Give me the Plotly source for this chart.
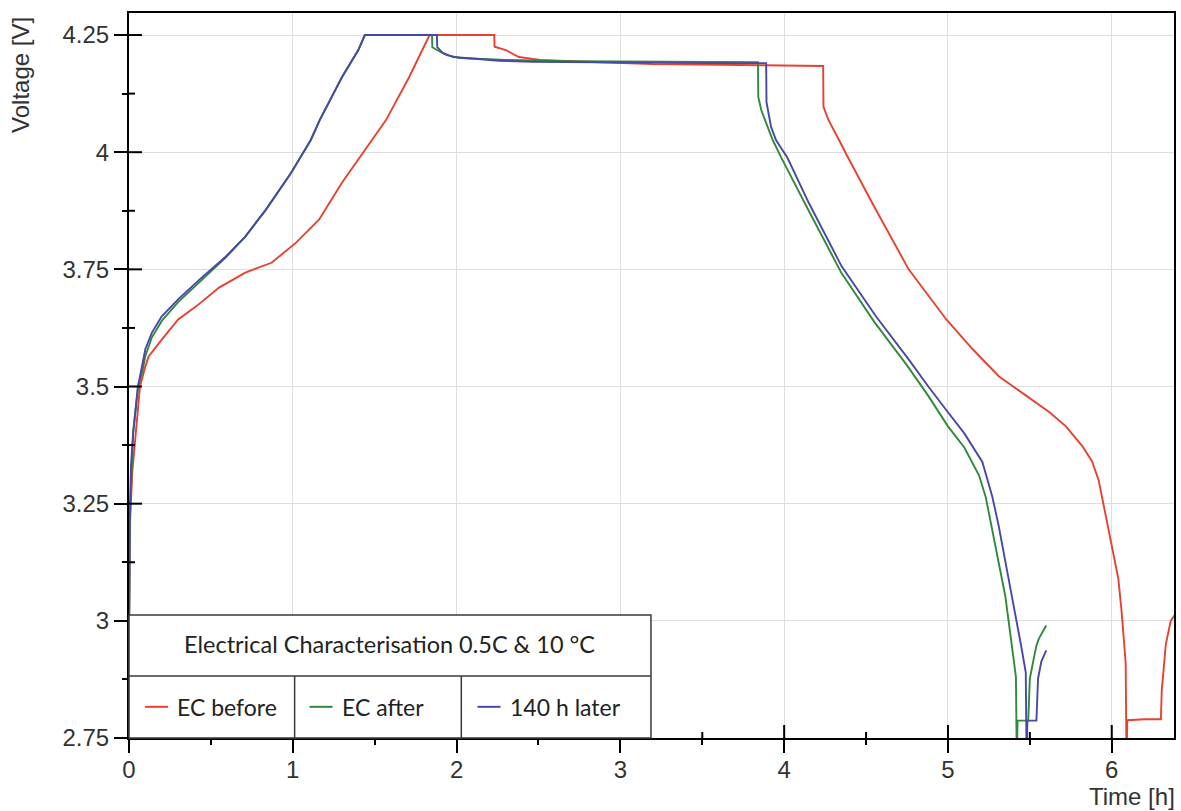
import plotly.graph_objects as go

# ---- measured series: time [h] and cell voltage [V] ----
t_before = [0, 0.005, 0.02, 0.037, 0.067, 0.1, 0.12, 0.2, 0.3, 0.41, 0.55, 0.71, 0.87, 1.02, 1.16,
            1.30, 1.48, 1.57, 1.71, 1.79, 1.835, 2.23, 2.232, 2.30, 2.38, 2.51, 2.7, 2.87, 3.2, 3.6,
            4.0, 4.238, 4.24, 4.27, 4.335, 4.38, 4.54, 4.76, 4.99, 5.15, 5.31, 5.49, 5.62, 5.72,
            5.82, 5.88, 5.92, 5.96, 6.0, 6.04, 6.06, 6.085, 6.09, 6.095, 6.2, 6.30, 6.305, 6.33, 6.36, 6.40]
v_before = [2.95, 3.2, 3.317, 3.39, 3.5, 3.543, 3.564, 3.60, 3.643, 3.671, 3.711, 3.743, 3.764, 3.807, 3.856,
            3.935, 4.026, 4.069, 4.16, 4.218, 4.25, 4.25, 4.225, 4.218, 4.203, 4.197, 4.194, 4.192, 4.188, 4.186,
            4.185, 4.184, 4.097, 4.069, 4.026, 3.995, 3.89, 3.75, 3.643, 3.58, 3.522, 3.477, 3.445, 3.415,
            3.373, 3.34, 3.30, 3.23, 3.16, 3.09, 3.02, 2.91, 2.70, 2.788, 2.79, 2.79, 2.85, 2.95, 3.0, 3.02]

t_after = [0, 0.005, 0.025, 0.055, 0.08, 0.10, 0.14, 0.20, 0.30, 0.43, 0.59, 0.71, 0.835, 0.99, 1.11,
           1.165, 1.30, 1.40, 1.44, 1.85, 1.852, 1.88, 1.94, 2.02, 2.3, 2.7, 3.2, 3.6, 3.84, 3.842,
           3.86, 3.93, 3.98, 4.15, 4.35, 4.55, 4.75, 4.88, 5.0, 5.10, 5.19, 5.23, 5.27, 5.32, 5.35,
           5.39, 5.415, 5.42, 5.425, 5.49, 5.50, 5.52, 5.54, 5.555, 5.60]
v_after = [2.95, 3.22, 3.40, 3.5, 3.53, 3.565, 3.605, 3.64, 3.68, 3.722, 3.775, 3.82, 3.877, 3.956, 4.026,
           4.069, 4.16, 4.218, 4.25, 4.25, 4.224, 4.218, 4.207, 4.201, 4.197, 4.194, 4.193, 4.192, 4.192, 4.118,
           4.09, 4.026, 3.99, 3.875, 3.742, 3.638, 3.545, 3.48, 3.415, 3.37, 3.31, 3.265, 3.196, 3.105, 3.053,
           2.947, 2.88, 2.70, 2.787, 2.787, 2.877, 2.913, 2.947, 2.962, 2.99]

t_later = [0, 0.005, 0.012, 0.025, 0.055, 0.08, 0.10, 0.14, 0.20, 0.30, 0.43, 0.59, 0.71, 0.835, 0.99,
           1.11, 1.165, 1.30, 1.40, 1.44, 1.88, 1.882, 1.915, 1.98, 2.10, 2.26, 2.46, 3.0, 3.5, 3.89,
           3.892, 3.92, 3.95, 4.02, 4.15, 4.35, 4.56, 4.76, 4.88, 5.0, 5.10, 5.21, 5.27, 5.31, 5.36,
           5.41, 5.445, 5.475, 5.48, 5.485, 5.54, 5.55, 5.57, 5.60]
v_later = [2.95, 3.22, 3.33, 3.40, 3.5, 3.545, 3.58, 3.615, 3.65, 3.686, 3.728, 3.777, 3.82, 3.877, 3.956,
           4.026, 4.069, 4.16, 4.218, 4.25, 4.25, 4.224, 4.212, 4.203, 4.199, 4.195, 4.193, 4.191, 4.19, 4.19,
           4.107, 4.054, 4.026, 3.988, 3.892, 3.757, 3.65, 3.558, 3.50, 3.445, 3.40, 3.339, 3.266, 3.202, 3.11,
           3.019, 2.95, 2.89, 2.70, 2.787, 2.787, 2.877, 2.913, 2.937]

series_names = ["EC before", "EC after", "140 h later"]
legend_title = "Electrical Characterisation 0.5C & 10 °C"

y_tickvals = [2.75, 3.0, 3.25, 3.5, 3.75, 4.0, 4.25]
y_ticktext = ["2.75", "3", "3.25", "3.5", "3.75", "4", "4.25"]
x_tickvals = [0, 1, 2, 3, 4, 5, 6]
x_ticktext = ["0", "1", "2", "3", "4", "5", "6"]

colors = ["#e8412f", "#2f8a3c", "#4848a6"]

X_RANGE = [0, 6.38]
Y_RANGE = [2.75, 4.297]

# plot-area size in px (for converting tick lengths to paper fractions)
W, H = 1181, 811
ML, MR, MT, MB = 129, 5, 13, 73
PW, PH = W - ML - MR, H - MT - MB

fig = go.Figure()
for t, v, name, c in zip([t_before, t_after, t_later], [v_before, v_after, v_later], series_names, colors):
    fig.add_trace(go.Scatter(x=t, y=v, mode="lines", name=name,
                             line=dict(color=c, width=1.9), showlegend=False))

tick_font = dict(family="Liberation Sans, Arial, sans-serif", size=24, color="#333333")

fig.update_layout(
    width=W, height=H,
    margin=dict(l=ML, r=MR, t=MT, b=MB),
    paper_bgcolor="white", plot_bgcolor="white",
    showlegend=False,
    xaxis=dict(range=X_RANGE, tickmode="array", tickvals=x_tickvals, ticktext=x_ticktext,
               ticks="outside", ticklen=13, tickwidth=2, tickcolor="black",
               minor=dict(ticks="outside", ticklen=5, tickwidth=2, tickcolor="black",
                          dtick=0.5, tick0=0, showgrid=False),
               showline=True, linecolor="black", linewidth=2, mirror=True,
               showgrid=True, gridcolor="#dedede", gridwidth=1, zeroline=False,
               tickfont=tick_font, ticklabelstandoff=-4),
    yaxis=dict(range=Y_RANGE, tickmode="array", tickvals=y_tickvals, ticktext=y_ticktext,
               ticks="outside", ticklen=13, tickwidth=2, tickcolor="black",
               minor=dict(ticks="outside", ticklen=5, tickwidth=2, tickcolor="black",
                          dtick=0.125, tick0=2.75, showgrid=False),
               showline=True, linecolor="black", linewidth=2, mirror=True,
               showgrid=True, gridcolor="#dedede", gridwidth=1, zeroline=False,
               tickfont=tick_font),
)

# inward half of the crossing tick marks (major and the minor ones midway)
tick_line = dict(color="black", width=2)
x_minor = [(a + b) / 2 for a, b in zip(x_tickvals[:-1], x_tickvals[1:])]
y_minor = [(a + b) / 2 for a, b in zip(y_tickvals[:-1], y_tickvals[1:])]
for vals, length in ((x_tickvals, 13), (x_minor, 6)):
    for xv in vals:
        if 0 < xv < X_RANGE[1]:
            fig.add_shape(type="line", xref="x", yref="paper", x0=xv, x1=xv, y0=0, y1=length / PH,
                          line=tick_line, layer="above")
for vals, length in ((y_tickvals, 13), (y_minor, 6)):
    for yv in vals:
        if Y_RANGE[0] < yv < Y_RANGE[1]:
            fig.add_shape(type="line", xref="paper", yref="y", x0=0, x1=length / PW, y0=yv, y1=yv,
                          line=tick_line, layer="above")

# axis titles
title_font = dict(family="Liberation Sans, Arial, sans-serif", size=24, color="#333333")
fig.add_annotation(text="Voltage [V]", xref="paper", yref="paper", x=-0.104, y=0.915,
                   textangle=-90, showarrow=False, xanchor="center", yanchor="middle",
                   font=title_font)
fig.add_annotation(text="Time [h]", xref="paper", yref="paper", x=1.002, y=-0.1,
                   showarrow=False, xanchor="right", yanchor="bottom", font=title_font,
                   borderpad=0)

# legend table in the lower left corner of the plot area
box_col = "#3a3a3a"
x_right, y_top, y_mid = 0.4995, 0.1697, 0.0855
cells = [0.0, 0.1585, 0.318, x_right]
fig.add_shape(type="rect", xref="paper", yref="paper", x0=0, x1=x_right, y0=0, y1=y_top,
              fillcolor="white", line=dict(color=box_col, width=1.5), layer="above")
fig.add_shape(type="line", xref="paper", yref="paper", x0=0, x1=x_right, y0=y_mid, y1=y_mid,
              line=dict(color=box_col, width=1.5), layer="above")
for xc in cells[1:3]:
    fig.add_shape(type="line", xref="paper", yref="paper", x0=xc, x1=xc, y0=0, y1=y_mid,
                  line=dict(color=box_col, width=1.5), layer="above")

fig.add_annotation(text=legend_title, xref="paper", yref="paper", x=x_right / 2, y=0.129,
                   showarrow=False, xanchor="center", yanchor="middle",
                   font=dict(family="Lato, Open Sans, sans-serif", size=23.5, color="#222222"))

leg_font = dict(family="Lato, Open Sans, sans-serif", size=23, color="#222222")
row_y = 0.043
sample_x0 = [0.0153, 0.1728, 0.3335]
sample_len = 0.022
for name, c, sx in zip(series_names, colors, sample_x0):
    fig.add_shape(type="line", xref="paper", yref="paper", x0=sx, x1=sx + sample_len,
                  y0=row_y, y1=row_y, line=dict(color=c, width=2), layer="above")
    fig.add_annotation(text=name, xref="paper", yref="paper", x=sx + sample_len + 0.007, y=row_y,
                       showarrow=False, xanchor="left", yanchor="middle", font=leg_font)

fig.write_html("out.html")
